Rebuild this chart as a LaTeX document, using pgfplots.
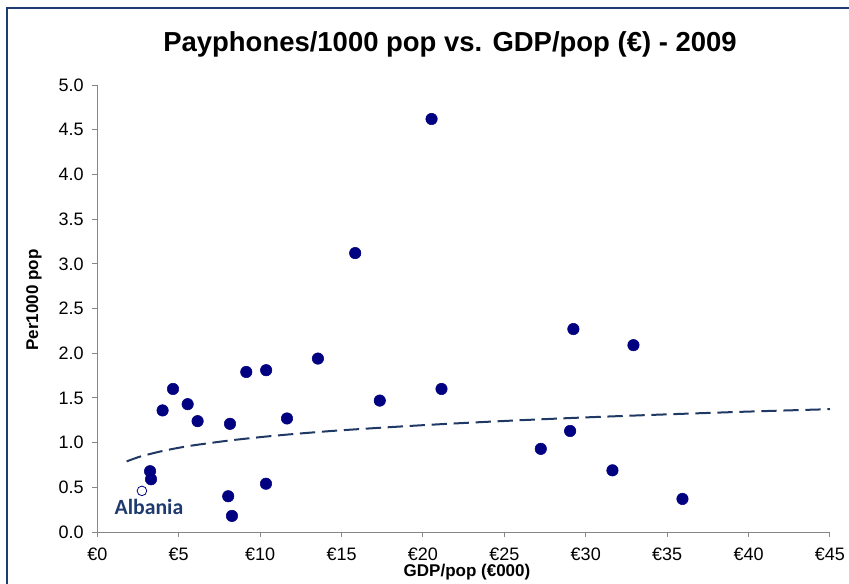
\documentclass[border=0pt]{standalone}
\usepackage{fontspec}
\setmainfont{Liberation Sans}
\newfontfamily\carlito{Carlito}
\usepackage{pgfplots}
\pgfplotsset{compat=1.18}
\definecolor{frameblue}{HTML}{203A74}
\definecolor{navy}{HTML}{000080}
\definecolor{trend}{HTML}{1F3864}
\definecolor{axgray}{HTML}{868686}
\definecolor{alb}{HTML}{1F3A6E}
\begin{document}
\begin{tikzpicture}
\useasboundingbox (0,0) rectangle (636.75pt,437.25pt);
\draw[frameblue, line width=1.5pt] (5.6pt,-5pt) -- (5.6pt,431.6pt) -- (700pt,431.6pt);
\node[anchor=base, font=\bfseries\fontsize{20.6}{25}\selectfont] at (337.5pt,398.25pt) {Payphones/1000 pop vs. GDP/pop (€) - 2009};
\node[rotate=90, font=\bfseries\fontsize{12.75}{15}\selectfont] at (25.5pt,212.25pt) {Per1000 pop};
\node[font=\bfseries\fontsize{12.75}{15}\selectfont] at (350.25pt,8.25pt) {GDP/pop (€000)};
\begin{axis}[
  at={(72.98pt,38.25pt)}, anchor=south west,
  scale only axis, width=549.5pt, height=335.25pt,
  xmin=0, xmax=45, ymin=0, ymax=5,
  axis lines*=left,
  xtick={0,5,...,45},
  xticklabels={€0,€5,€10,€15,€20,€25,€30,€35,€40,€45},
  ytick={0,0.5,...,5},
  yticklabels={0.0,0.5,1.0,1.5,2.0,2.5,3.0,3.5,4.0,4.5,5.0},
  tick align=outside, major tick length=3.75pt,
  tick style={axgray, line width=0.75pt},
  axis line style={axgray, line width=0.75pt},
  tick label style={font=\fontsize{13.5}{16}\selectfont, black},
  xticklabel style={yshift=-4.5pt},
  yticklabel style={xshift=-3pt},
  clip=false,
]
\addplot[trend, line width=1.5pt, dash pattern=on 11.5pt off 5pt, smooth, no marks] table {
x y
1.8 0.790
2.5 0.836
3 0.862
4 0.906
5 0.942
6 0.972
8 1.021
10 1.061
12 1.095
15 1.138
20 1.195
25 1.242
30 1.282
35 1.316
40 1.347
45 1.374
};
\addplot[only marks, mark=*, mark size=4.3pt, mark options={fill=navy, draw=navy}] table {
x y
3.24 0.68
3.30 0.59
4.01 1.36
4.65 1.60
5.55 1.43
6.16 1.24
8.04 0.40
8.15 1.21
8.27 0.18
9.15 1.79
10.36 0.54
10.37 1.81
11.65 1.27
13.55 1.94
15.84 3.12
17.35 1.47
20.53 4.62
21.14 1.60
27.24 0.93
29.04 1.13
29.24 2.27
31.64 0.69
32.93 2.09
35.94 0.37
};
\addplot[only marks, mark=*, mark size=3.6pt, mark options={fill=white, draw=navy, line width=0.6pt}] coordinates {(2.74,0.46)};
\node[font=\carlito\bfseries\fontsize{16.3}{18}\selectfont, text=alb] at (axis cs:3.17,0.28) {Albania};
\end{axis}
\end{tikzpicture}
\end{document}
